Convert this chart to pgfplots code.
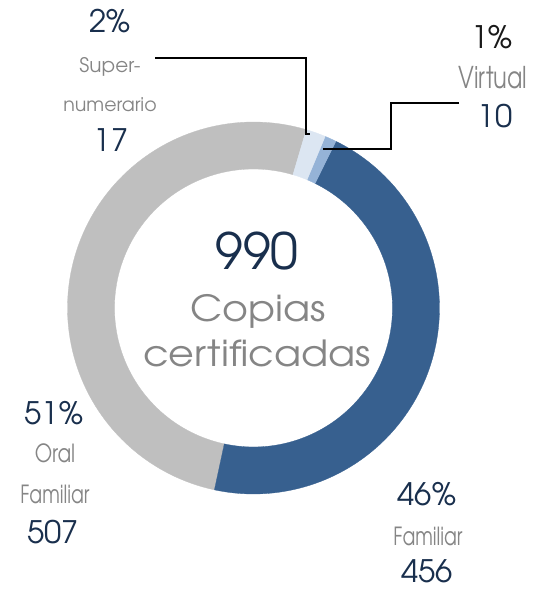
\documentclass[border=0pt]{standalone}
\usepackage{pgfplots}
\pgfplotsset{compat=1.18}
\usepackage{pgfplotstable}
\usepackage{graphicx}
\usepackage{fontspec}
\setmainfont{TeX Gyre Adventor}

\definecolor{cgray}{HTML}{BFBFBF}
\definecolor{cblue}{HTML}{37608F}
\definecolor{cvirt}{HTML}{95B3D7}
\definecolor{csup}{HTML}{DCE6F2}
\definecolor{navy}{HTML}{192F4D}
\definecolor{tgray}{HTML}{858585}

\pgfplotstableread{
label value
Super 17
Virtual 10
Familiar 456
Oral 507
}\datatable

\pgfplotstablegetelem{0}{value}\of\datatable \let\vSup\pgfplotsretval
\pgfplotstablegetelem{1}{value}\of\datatable \let\vVir\pgfplotsretval
\pgfplotstablegetelem{2}{value}\of\datatable \let\vFam\pgfplotsretval
\pgfplotstablegetelem{3}{value}\of\datatable \let\vOra\pgfplotsretval
\pgfmathsetmacro{\vTot}{\vSup+\vVir+\vFam+\vOra}
\pgfmathsetmacro{\aA}{73.5}
\pgfmathsetmacro{\aB}{\aA-\vSup/\vTot*360}
\pgfmathsetmacro{\aC}{\aB-\vVir/\vTot*360}
\pgfmathsetmacro{\aD}{\aC-\vFam/\vTot*360}
\pgfmathsetmacro{\aE}{\aD-\vOra/\vTot*360}

\def\cx{253.5}
\def\cy{282}
\def\Ro{186}
\def\Ri{139}

% ring sector: outer arc (t in [0,1]), radial edge (t in [1,2]), inner arc back (t in [2,3])
\newcommand{\sector}[3]{%
  \addplot[fill=#1, draw=#1, line width=0.3pt, line join=round, domain=0:3, samples=301, variable=\t]
    ({\cx + (\Ro+(\Ri-\Ro)*min(max(\t-1,0),1))*cos(#2+(#3-#2)*min(\t,1)-(#3-#2)*max(\t-2,0))},
     {\cy + (\Ro+(\Ri-\Ro)*min(max(\t-1,0),1))*sin(#2+(#3-#2)*min(\t,1)-(#3-#2)*max(\t-2,0))}) -- cycle;
}

\begin{document}
\begin{tikzpicture}
\useasboundingbox (0,0) rectangle (541pt,590pt);
\begin{axis}[x=1pt, y=1pt, xmin=0, xmax=541, ymin=0, ymax=590,
  hide axis, clip=false, at={(0,0)}, anchor=south west]
\sector{cgray}{\aD}{\aE}
\sector{cblue}{\aC}{\aD}
\sector{cvirt}{\aB}{\aC}
\sector{csup}{\aA}{\aB}

% leader lines
\addplot[black, line width=1.3pt] coordinates {(155,532) (306,532) (306,456) (310,456)};
\addplot[black, line width=1.3pt] coordinates {(459,487) (391,487) (391,441) (323,441)};

\tikzset{lab/.style={anchor=base, inner sep=0pt}}
% center
\node[lab, text=navy] at (axis cs:257,320) {\fontsize{50}{50}\selectfont 990};
\node[lab, text=tgray] at (axis cs:258,268) {\scalebox{1.1}[1]{\fontsize{36}{36}\selectfont Copias}};
\node[lab, text=tgray] at (axis cs:257,223) {\scalebox{1.1}[1]{\fontsize{36}{36}\selectfont certificadas}};
% Super
\node[lab, text=navy] at (axis cs:110,557) {\fontsize{31}{31}\selectfont 2\%};
\node[lab, text=tgray] at (axis cs:110,517) {\fontsize{20}{20}\selectfont Super-};
\node[lab, text=tgray] at (axis cs:110,478) {\fontsize{19}{19}\selectfont numerario};
\node[lab, text=navy] at (axis cs:111,438) {\fontsize{31}{31}\selectfont 17};
% Virtual
\node[lab, text=black!90] at (axis cs:492,541) {\fontsize{31}{31}\selectfont 1\%};
\node[lab, text=tgray] at (axis cs:493,501) {\scalebox{0.75}[1]{\fontsize{30}{30}\selectfont Virtual}};
\node[lab, text=navy] at (axis cs:495,462) {\fontsize{31}{31}\selectfont 10};
% Oral Familiar
\node[lab, text=navy] at (axis cs:54,165) {\fontsize{31}{31}\selectfont 51\%};
\node[lab, text=tgray] at (axis cs:55,127) {\scalebox{0.8}[1]{\fontsize{25}{25}\selectfont Oral}};
\node[lab, text=tgray] at (axis cs:55,86) {\scalebox{0.75}[1]{\fontsize{25}{25}\selectfont Familiar}};
\node[lab, text=navy] at (axis cs:53,46) {\fontsize{31}{31}\selectfont 507};
% Familiar
\node[lab, text=navy] at (axis cs:427,84) {\fontsize{31}{31}\selectfont 46\%};
\node[lab, text=tgray] at (axis cs:428,45) {\scalebox{0.75}[1]{\fontsize{25}{25}\selectfont Familiar}};
\node[lab, text=navy] at (axis cs:427,7) {\fontsize{31}{31}\selectfont 456};
\end{axis}
\end{tikzpicture}
\end{document}
